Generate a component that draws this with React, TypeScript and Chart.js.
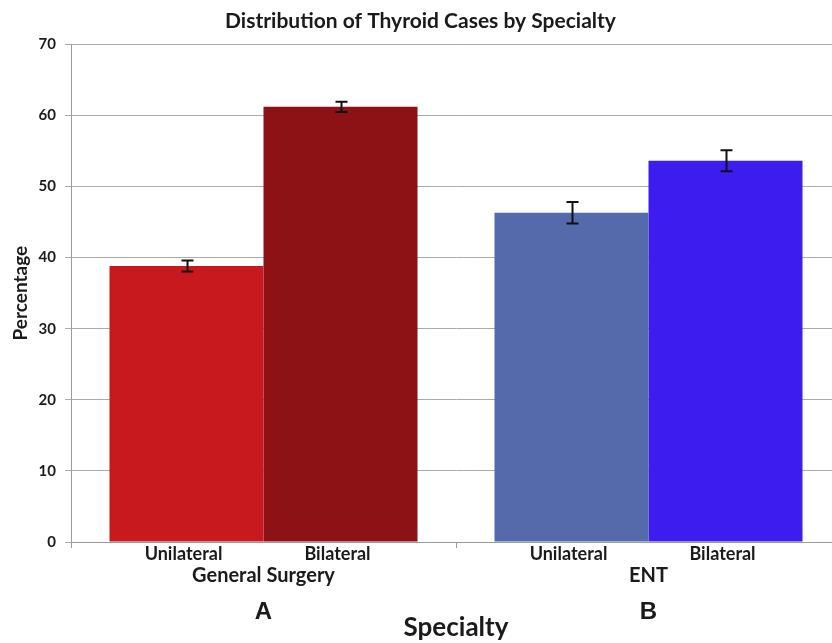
import React, { useEffect, useRef } from "react";
import { Chart, registerables } from "chart.js";

Chart.register(...registerables);

const chartTitle = "Distribution of Thyroid Cases by Specialty";
const groups = ["General Surgery", "ENT"];
const groupLetters = ["A", "B"];
const seriesNames = ["Unilateral", "Bilateral"];
const unilateral = [38.8, 46.3];
const bilateral = [61.2, 53.6];
const unilateralErr = [0.77, 1.5];
const bilateralErr = [0.72, 1.48];
const unilateralColors = ["#C8191E", "#556AAB"];
const bilateralColors = ["#8C1216", "#3D1CF0"];
const yAxisTitle = "Percentage";
const xAxisTitle = "Specialty";

const FONT = "Lato, 'Open Sans', sans-serif";
const TEXT = "#1a1a1a";

const annotatePlugin = {
  id: "annotate",
  afterDatasetsDraw(chart: any) {
    const ctx = chart.ctx;
    const ys = chart.scales.y;
    ctx.save();
    ctx.strokeStyle = "#111";
    ctx.lineWidth = 2;
    chart.data.datasets.forEach((ds: any, i: number) => {
      const meta = chart.getDatasetMeta(i);
      meta.data.forEach((el: any, j: number) => {
        const v = ds.data[j];
        const e = ds.errors[j];
        const x = Math.round(el.x) + 0.5;
        const yt = ys.getPixelForValue(v + e);
        const yb = ys.getPixelForValue(v - e);
        ctx.beginPath();
        ctx.moveTo(x, yt);
        ctx.lineTo(x, yb);
        ctx.moveTo(x - 6, yt);
        ctx.lineTo(x + 6, yt);
        ctx.moveTo(x - 6, yb);
        ctx.lineTo(x + 6, yb);
        ctx.stroke();
      });
    });
    ctx.restore();
  },
  afterDraw(chart: any) {
    const ctx = chart.ctx;
    const xs = chart.scales.x;
    ctx.save();
    ctx.fillStyle = TEXT;
    ctx.textAlign = "center";
    ctx.textBaseline = "middle";
    ctx.font = `bold 18px ${FONT}`;
    chart.data.datasets.forEach((ds: any, i: number) => {
      const meta = chart.getDatasetMeta(i);
      meta.data.forEach((el: any) => {
        ctx.fillText(ds.label, el.x - 3, 554);
      });
    });
    ctx.font = `bold 24px 'Liberation Sans', Arial, sans-serif`;
    groupLetters.forEach((g, j) => {
      ctx.fillText(g, xs.getPixelForValue(j), 612);
    });
    ctx.restore();
  },
};

export default function App() {
  const ref = useRef<HTMLCanvasElement>(null);
  useEffect(() => {
    if (!ref.current) return;
    const chart = new Chart(ref.current, {
      type: "bar",
      data: {
        labels: groups,
        datasets: [
          {
            label: seriesNames[0],
            data: unilateral,
            errors: unilateralErr,
            backgroundColor: unilateralColors,
            barPercentage: 1,
            categoryPercentage: 0.8,
          } as any,
          {
            label: seriesNames[1],
            data: bilateral,
            errors: bilateralErr,
            backgroundColor: bilateralColors,
            barPercentage: 1,
            categoryPercentage: 0.8,
          } as any,
        ],
      },
      options: {
        responsive: false,
        animation: false,
        layout: { padding: { left: 0, right: 4, top: 0, bottom: 0 } },
        plugins: {
          legend: { display: false },
          tooltip: { enabled: false },
          title: {
            display: true,
            text: chartTitle,
            color: TEXT,
            font: { family: FONT, size: 21, weight: "bold" },
            padding: { top: 9, bottom: 10 },
          },
        },
        scales: {
          x: {
            type: "category",
            offset: true,
            afterFit: (s: any) => {
              s.height = 101;
            },
            grid: {
              display: true,
              drawOnChartArea: false,
              drawTicks: true,
              tickLength: 6,
              offset: true,
              color: "#9a9a9a",
            },
            border: { color: "#9a9a9a", width: 1 },
            ticks: {
              color: TEXT,
              font: { family: FONT, size: 20, weight: "bold" },
              padding: 16,
            },
            title: {
              display: true,
              text: xAxisTitle,
              color: TEXT,
              font: { family: FONT, size: 26, weight: "bold" },
              padding: { top: 0, bottom: 0 },
            },
          },
          y: {
            min: 0,
            max: 70,
            afterFit: (s: any) => {
              s.width = 71;
            },
            ticks: {
              stepSize: 10,
              color: TEXT,
              padding: 9,
              font: { family: FONT, size: 15, weight: "bold" },
            },
            grid: {
              color: "#ababab",
              tickLength: 6,
              lineWidth: 1,
            },
            border: { color: "#9a9a9a", width: 1 },
            title: {
              display: true,
              text: yAxisTitle,
              color: TEXT,
              font: { family: FONT, size: 19, weight: "bold" },
              padding: { top: 9, bottom: 0 },
            },
          },
        },
      } as any,
      plugins: [annotatePlugin],
    });
    return () => chart.destroy();
  }, []);

  return (
    <div
      style={{
        position: "fixed",
        left: 0,
        top: 0,
        width: 832,
        height: 643,
        overflow: "hidden",
        background: "#fff",
      }}
    >
      <canvas ref={ref} width={845} height={643} style={{ display: "block" }} />
    </div>
  );
}
